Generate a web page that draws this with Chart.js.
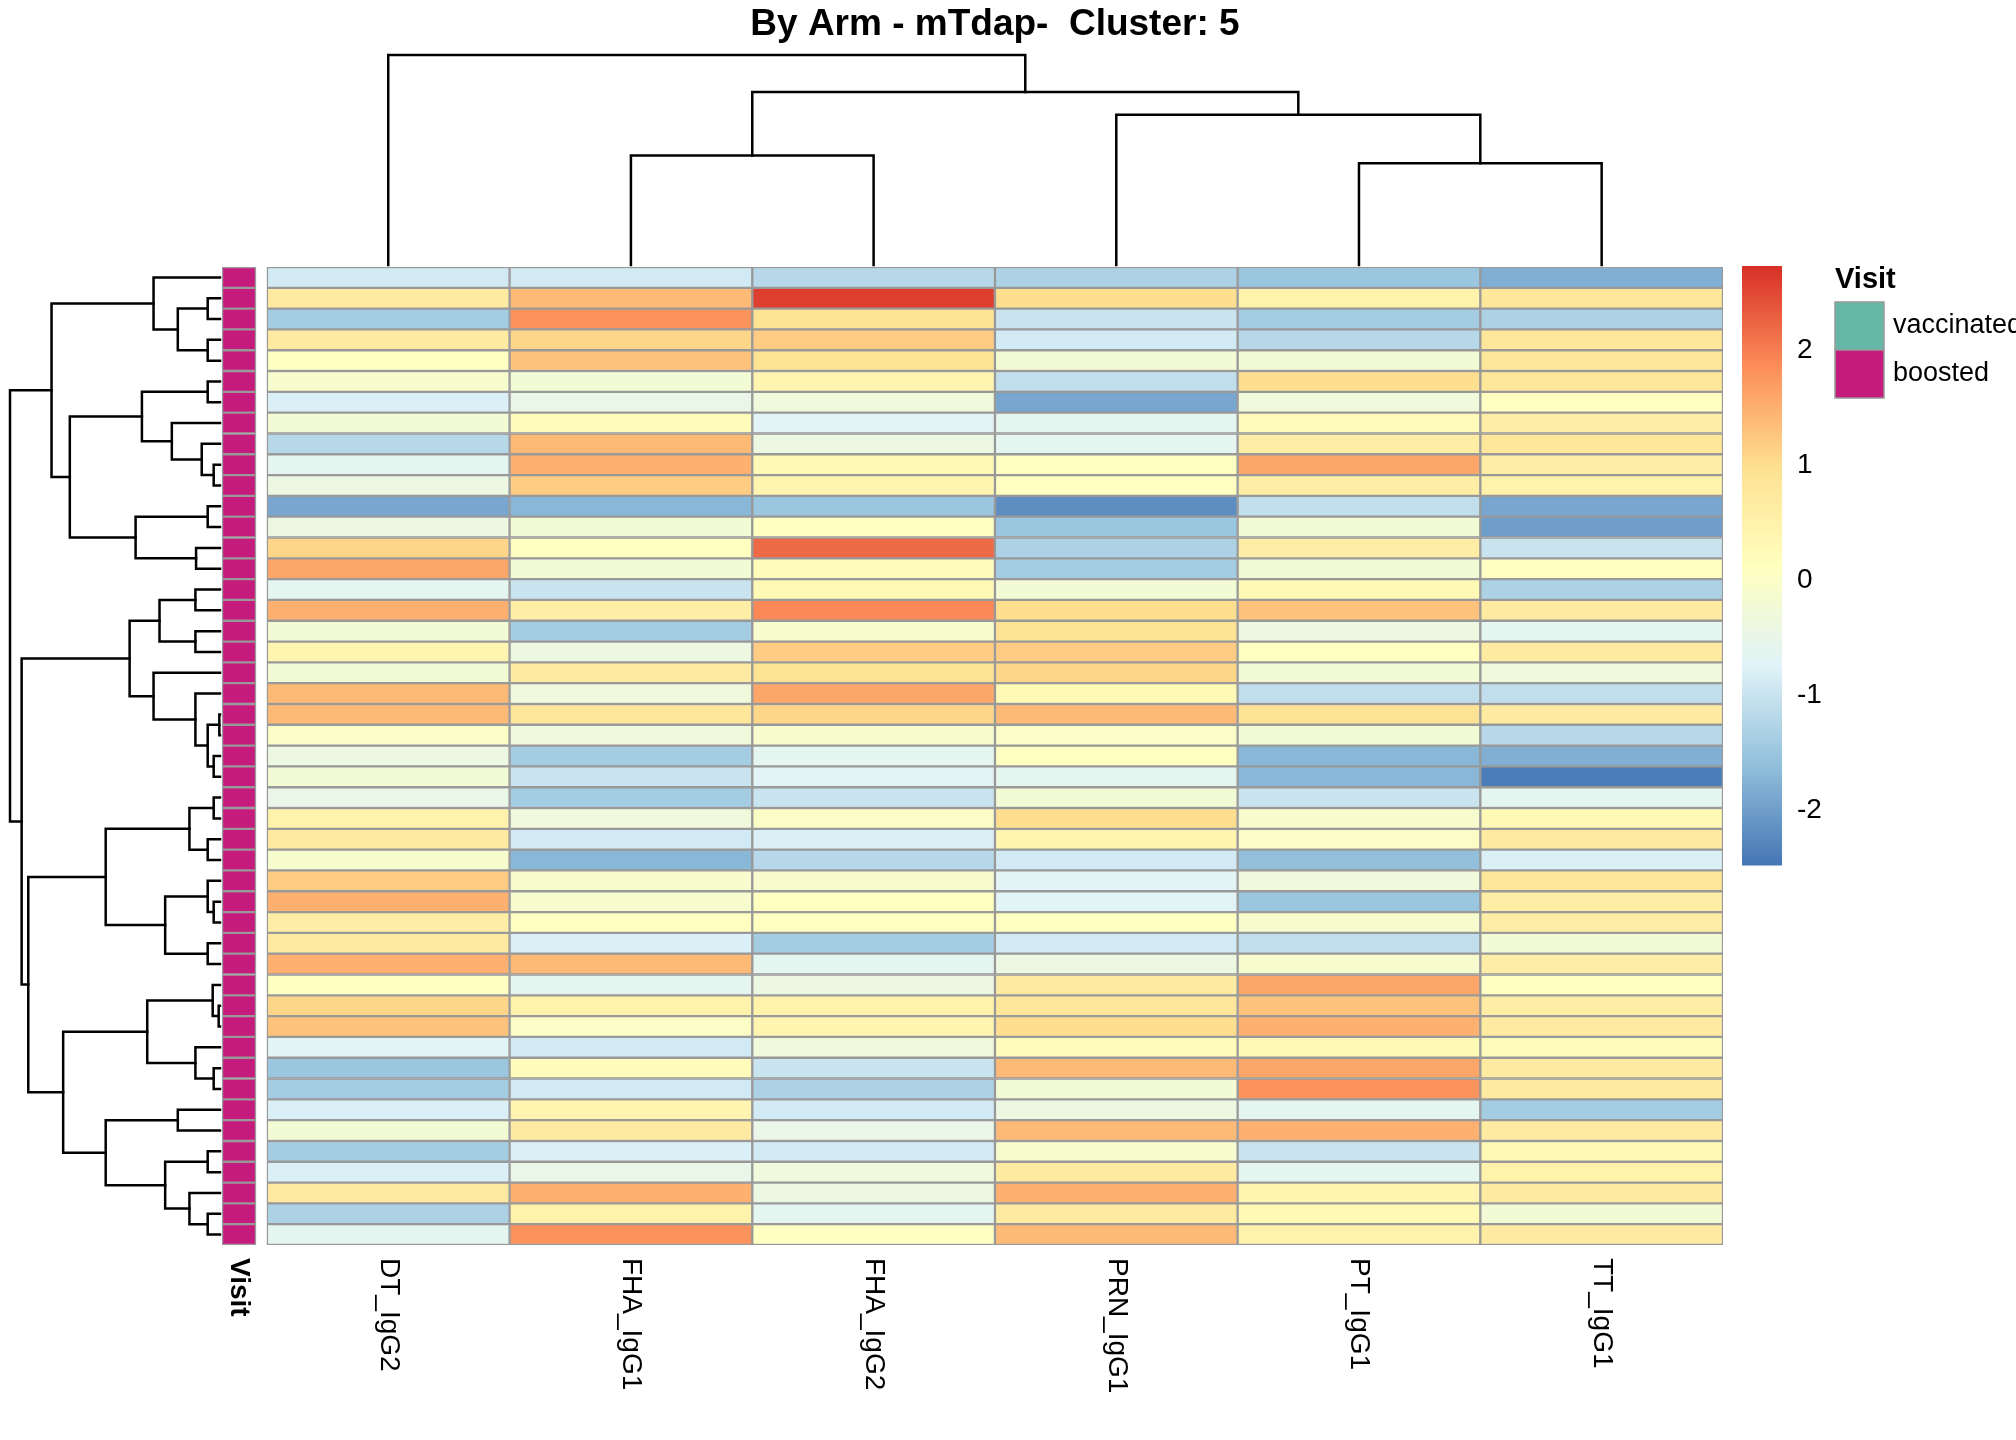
<!DOCTYPE html>
<html>
<head>
<meta charset="utf-8">
<script src="https://cdn.jsdelivr.net/npm/chart.js@4/dist/chart.umd.min.js"></script>
<style>
  body { margin: 0; background: #fff; }
  canvas { display: block; }
</style>
</head>
<body>
<canvas id="heat" width="2016" height="1440"></canvas>
<script>
const titulo = 'By Arm - mTdap-  Cluster: 5';
const colunas = ['DT_IgG2', 'FHA_IgG1', 'FHA_IgG2', 'PRN_IgG1', 'PT_IgG1', 'TT_IgG1'];
const escalaMin = -2.48, escalaMax = 2.73;
const ticksEscala = [2, 1, 0, -1, -2];
const paleta = ['#4575B4', '#91BFDB', '#E0F3F8', '#FFFFBF', '#FEE090', '#FC8D59', '#D73027'];
const visitas = ['vaccinated', 'boosted'];
const corVisita = ['#66B8A6', '#C51B7D'];

// valores por linha (ordem de cima pra baixo), uma coluna por anticorpo
const valores = [
  [-0.9, -0.9, -1.2, -1.3, -1.5, -1.8],
  [0.7, 1.4, 2.6, 1.0, 0.5, 0.8],
  [-1.4, 1.8, 0.9, -1.0, -1.4, -1.3],
  [0.7, 1.1, 1.2, -0.9, -1.2, 0.8],
  [0.1, 1.3, 0.9, -0.2, -0.2, 0.8],
  [-0.1, -0.2, 0.4, -1.1, 1.0, 0.8],
  [-0.8, -0.5, -0.3, -1.9, -0.3, 0.1],
  [-0.2, 0.2, -0.7, -0.6, 0.2, 0.6],
  [-1.2, 1.4, -0.4, -0.6, 0.6, 0.8],
  [-0.6, 1.5, 0.3, 0.1, 1.6, 0.6],
  [-0.4, 1.2, 0.4, 0.1, 0.6, 0.5],
  [-1.9, -1.7, -1.5, -2.2, -1.1, -1.9],
  [-0.4, -0.2, 0.1, -1.5, -0.2, -2.0],
  [1.1, 0.1, 2.2, -1.3, 0.6, -1.0],
  [1.6, -0.2, 0.2, -1.4, -0.2, 0.1],
  [-0.6, -1.0, 0.3, -0.2, 0.3, -1.3],
  [1.5, 0.6, 1.9, 1.0, 1.3, 0.7],
  [-0.2, -1.4, -0.1, 0.9, -0.4, -0.6],
  [0.4, -0.4, 1.2, 1.2, 0.1, 0.7],
  [-0.2, 0.7, 0.9, 1.1, -0.2, -0.3],
  [1.4, -0.3, 1.6, 0.3, -1.1, -1.1],
  [1.4, 0.8, 1.1, 1.4, 0.9, 0.7],
  [0.0, -0.3, -0.1, 0.0, -0.2, -1.2],
  [-0.4, -1.4, -0.6, 0.1, -1.7, -1.8],
  [-0.2, -1.0, -0.7, -0.6, -1.7, -2.4],
  [-0.5, -1.4, -1.0, -0.2, -1.0, -0.6],
  [0.5, -0.3, 0.0, 1.0, -0.1, 0.3],
  [0.7, -0.9, -0.8, 0.4, 0.0, 0.7],
  [-0.1, -1.7, -1.2, -0.9, -1.6, -0.8],
  [1.2, -0.1, -0.1, -0.7, -0.3, 0.8],
  [1.5, -0.1, 0.1, -0.7, -1.5, 0.6],
  [0.6, 0.1, 0.1, 0.1, -0.1, 0.6],
  [0.7, -0.8, -1.4, -0.9, -1.1, -0.2],
  [1.5, 1.4, -0.6, -0.4, -0.1, 0.6],
  [0.1, -0.6, -0.4, 0.7, 1.6, 0.1],
  [1.1, 0.5, 0.5, 0.8, 1.3, 0.6],
  [1.3, 0.0, 0.4, 1.0, 1.5, 0.7],
  [-0.7, -0.9, -0.3, 0.2, 0.3, 0.2],
  [-1.5, 0.2, -1.0, 1.4, 1.6, 0.7],
  [-1.4, -0.9, -1.3, -0.2, 1.8, 0.7],
  [-0.8, 0.4, -0.9, -0.4, -0.6, -1.4],
  [-0.2, 0.7, -0.5, 1.4, 1.5, 0.7],
  [-1.4, -0.8, -0.9, -0.1, -1.0, 0.3],
  [-0.8, -0.5, -0.3, 0.7, -0.6, 0.5],
  [0.7, 1.5, -0.4, 1.5, 0.4, 0.7],
  [-1.3, 0.5, -0.6, 0.7, 0.3, -0.2],
  [-0.6, 1.8, 0.1, 1.4, 0.5, 0.7]
];
const visitaLinha = valores.map(() => 1); // todas 'boosted'

// dendrogramas: [altura, esquerda, direita], folha = indice (1-based)
const arvoreColunas = [165, 1, [136, [86, 2, 3], [118, 4, [80, 5, 6]]]];
const arvoreLinhas = [632,
  [507,
    [200, 1, [127, [37, 2, 3], [37, 4, 5]]],
    [452,
      [235, [37, 6, 7], [145, 8, [55, 9, [19, 10, 11]]]],
      [254, [37, 12, 13], [72, 14, 15]]]],
  [597,
    [272,
      [182, [74, 16, 17], [74, 18, 19]],
      [200, 20, [74, 21, [37, [2, 22, 23], [19, 24, 25]]]]],
    [577,
      [344,
        [92, [19, 26, 27], [37, 28, 29]],
        [165, [37, 30, [19, 31, 32]], [37, 33, 34]]],
      [472,
        [219, [22, 35, [4, 36, 37]], [74, 38, [19, 39, 40]]],
        [344, [127, 41, 42], [165, [37, 43, 44], [92, 45, [37, 46, 47]]]]]]]];

function hexRgb(h) {
  return [1, 3, 5].map(i => parseInt(h.slice(i, i + 2), 16));
}
function corValor(v) {
  let t = (v - escalaMin) / (escalaMax - escalaMin);
  t = Math.max(0, Math.min(1, t)) * (paleta.length - 1);
  let i = Math.min(Math.floor(t), paleta.length - 2);
  let f = t - i;
  let a = hexRgb(paleta[i]), b = hexRgb(paleta[i + 1]);
  let c = a.map((x, k) => Math.round(x + (b[k] - x) * f));
  return `rgb(${c[0]},${c[1]},${c[2]})`;
}

const linhas = valores.map((_, i) => 'r' + (i + 1));
const datasets = colunas.map((nome, c) => ({
  label: nome,
  data: valores.map(l => [c, c + 1]),
  backgroundColor: valores.map(l => corValor(l[c])),
  borderColor: '#999999',
  borderWidth: 1.5,
  borderSkipped: false,
  grouped: false,
  barPercentage: 1,
  categoryPercentage: 1
}));
datasets.push({
  label: 'Visit',
  data: visitaLinha.map(() => [-0.185, -0.045]),
  backgroundColor: visitaLinha.map(v => corVisita[v]),
  borderColor: '#999999',
  borderWidth: 1.5,
  borderSkipped: false,
  grouped: false,
  barPercentage: 1,
  categoryPercentage: 1
});

const extras = {
  id: 'extras',
  afterDraw(chart) {
    const ctx = chart.ctx;
    const xs = chart.scales.x, ys = chart.scales.y;
    ctx.save();
    ctx.strokeStyle = '#000';
    ctx.lineWidth = 2.5;
    ctx.lineCap = 'square';

    // dendrograma das linhas (esquerda)
    const xFolha = 220, xRaiz = 10;
    const linhaArv = (no) => {
      if (typeof no === 'number') return { p: ys.getPixelForValue(no - 1), h: xFolha };
      let e = linhaArv(no[1]), d = linhaArv(no[2]);
      let h = xFolha - (xFolha - xRaiz) * no[0] / arvoreLinhas[0];
      ctx.beginPath();
      ctx.moveTo(e.h, e.p); ctx.lineTo(h, e.p); ctx.lineTo(h, d.p); ctx.lineTo(d.h, d.p);
      ctx.stroke();
      return { p: (e.p + d.p) / 2, h };
    };
    linhaArv(arvoreLinhas);

    // dendrograma das colunas (topo)
    const yFolha = 265, yRaiz = 55;
    const colArv = (no) => {
      if (typeof no === 'number') return { p: xs.getPixelForValue(no - 0.5), h: yFolha };
      let e = colArv(no[1]), d = colArv(no[2]);
      let h = yFolha - (yFolha - yRaiz) * no[0] / arvoreColunas[0];
      ctx.beginPath();
      ctx.moveTo(e.p, e.h); ctx.lineTo(e.p, h); ctx.lineTo(d.p, h); ctx.lineTo(d.p, d.h);
      ctx.stroke();
      return { p: (e.p + d.p) / 2, h };
    };
    colArv(arvoreColunas);

    // titulo
    ctx.fillStyle = '#000';
    ctx.font = 'bold 37px Arial, "Liberation Sans", sans-serif';
    ctx.textAlign = 'center';
    ctx.textBaseline = 'middle';
    ctx.fillText(titulo, (xs.getPixelForValue(0) + xs.getPixelForValue(6)) / 2, 25);

    // rotulos das colunas
    ctx.font = '28px Arial, "Liberation Sans", sans-serif';
    ctx.textAlign = 'left';
    colunas.forEach((nome, c) => {
      ctx.save();
      ctx.translate(xs.getPixelForValue(c + 0.5), 1258);
      ctx.rotate(Math.PI / 2);
      ctx.fillText(nome, 0, 0);
      ctx.restore();
    });
    ctx.save();
    ctx.font = 'bold 28px Arial, "Liberation Sans", sans-serif';
    ctx.translate(xs.getPixelForValue(-0.115), 1258);
    ctx.rotate(Math.PI / 2);
    ctx.fillText('Visit', 0, 0);
    ctx.restore();

    // barra de cores
    const bx = 1742, bw = 40, bTop = 266, bBot = 865;
    const valY = v => bTop + (escalaMax - v) / (escalaMax - escalaMin) * (bBot - bTop);
    for (let y = bTop; y < bBot; y++) {
      let v = escalaMax - (y - bTop) / (bBot - bTop) * (escalaMax - escalaMin);
      ctx.fillStyle = corValor(v);
      ctx.fillRect(bx, y, bw, 1.5);
    }
    ctx.fillStyle = '#000';
    ctx.font = '28px Arial, "Liberation Sans", sans-serif';
    ctx.textAlign = 'left';
    ticksEscala.forEach(t => {
      ctx.fillText(t === 0 ? '0' : (t < 0 ? '-' + Math.abs(t) : String(t)), 1797, valY(t));
    });

    // legenda Visit
    ctx.font = 'bold 29px Arial, "Liberation Sans", sans-serif';
    ctx.fillText('Visit', 1835, 280);
    ctx.font = '27px Arial, "Liberation Sans", sans-serif';
    visitas.forEach((v, i) => {
      let y = 302 + i * 48;
      ctx.fillStyle = corVisita[i];
      ctx.fillRect(1835, y, 49, 48);
      ctx.strokeStyle = '#999999';
      ctx.lineWidth = 1.5;
      ctx.strokeRect(1835, y, 49, 48);
      ctx.fillStyle = '#000';
      ctx.fillText(v, 1893, y + 24);
    });
    ctx.restore();
  }
};

new Chart(document.getElementById('heat').getContext('2d'), {
  type: 'bar',
  data: { labels: linhas, datasets: datasets },
  options: {
    indexAxis: 'y',
    responsive: false,
    animation: false,
    devicePixelRatio: 1,
    layout: { padding: { left: 222, right: 293, top: 267, bottom: 195 } },
    plugins: { legend: { display: false }, tooltip: { enabled: false }, title: { display: false } },
    scales: {
      x: { type: 'linear', display: false, min: -0.185, max: 6 },
      y: { type: 'category', display: false, offset: true }
    }
  },
  plugins: [extras]
});
</script>
</body>
</html>
